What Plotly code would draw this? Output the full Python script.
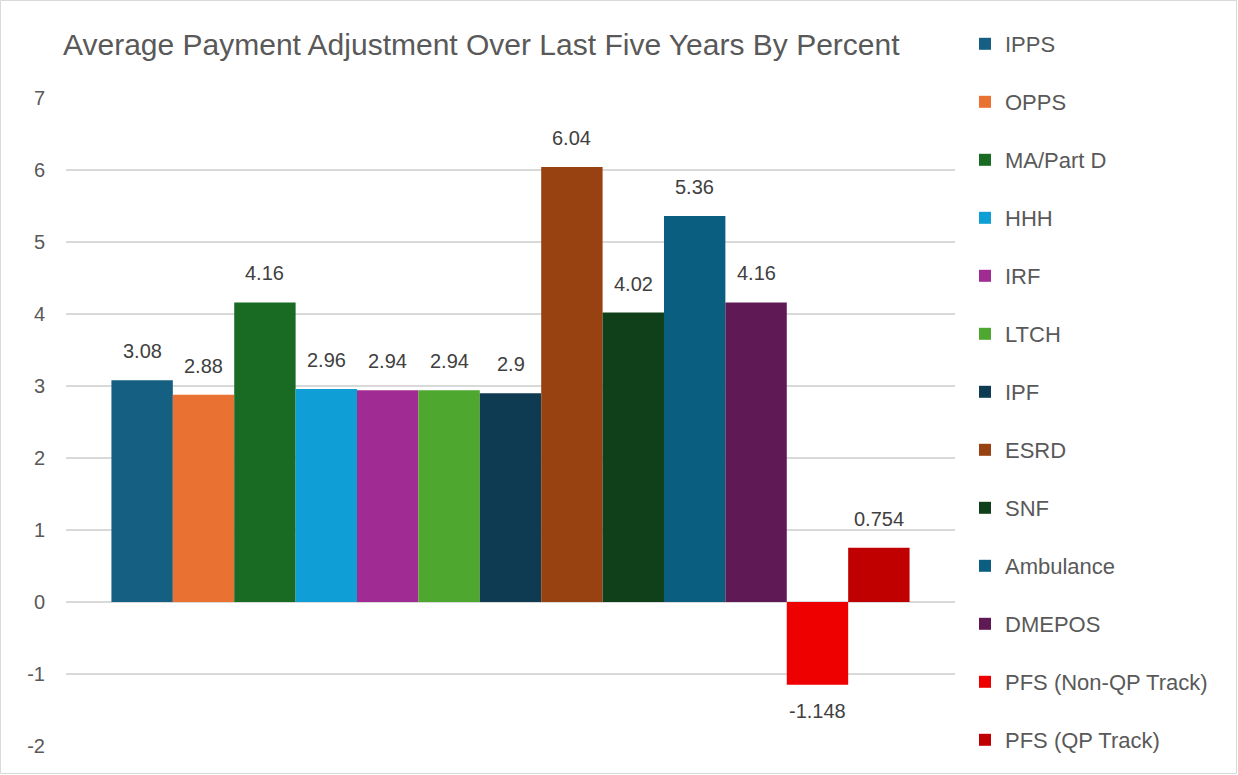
import plotly.graph_objects as go

# Payment systems and their five-year average adjustment (percent)
programs = ["IPPS", "OPPS", "MA/Part D", "HHH", "IRF", "LTCH", "IPF", "ESRD",
            "SNF", "Ambulance", "DMEPOS", "PFS (Non-QP Track)", "PFS (QP Track)"]
values = [3.08, 2.88, 4.16, 2.96, 2.94, 2.94, 2.9, 6.04, 4.02, 5.36, 4.16, -1.148, 0.754]
colors = ["#156082", "#E97132", "#196B24", "#0F9ED5", "#A02B93", "#4EA72E", "#0E3A52",
          "#984111", "#10401A", "#0A5F80", "#5F1955", "#EE0000", "#C00000"]
y_ticks = [-2, -1, 0, 1, 2, 3, 4, 5, 6, 7]
y_tick_text = [str(t) for t in y_ticks]

W, H = 1238, 775
L, R, T, B = 66, 283, 98, 29
pw, ph = W - L - R, H - T - B

base_font = "Liberation Sans, Arial, sans-serif"
fig = go.Figure()
for name, v, c in zip(programs, values, colors):
    fig.add_trace(go.Bar(
        x=[name], y=[v], name=name, marker_color=c, marker_line_width=0,
        width=1.0, legendgroup=name, hoverinfo="name+y",
    ))
    # value label above positive bars, below negative ones
    fig.add_annotation(
        x=name, y=v, text=f"{v:g}", showarrow=False,
        yanchor="bottom" if v >= 0 else "top", yshift=16 if v >= 0 else -13,
        font=dict(size=20, color="#404040", family=base_font),
    )

pad = 0.74
fig.update_layout(
    width=W, height=H,
    margin=dict(l=L, r=R, t=T, b=B),
    paper_bgcolor="white", plot_bgcolor="white",
    barmode="overlay",
    font=dict(family=base_font, color="#595959"),
    title=dict(text="Average Payment Adjustment Over Last Five Years By Percent",
               x=63 / W, xanchor="left", y=1 - 44 / H, yanchor="middle",
               font=dict(family=base_font, size=30, color="#595959")),
    legend=dict(x=(965 - L) / pw, xanchor="left", y=(H - B - 23) / ph, yanchor="top",
                font=dict(size=22, color="#595959", family=base_font),
                tracegroupgap=26.4, bgcolor="rgba(0,0,0,0)", maxheight=2000),
    showlegend=True,
)
fig.update_xaxes(type="category", range=[-0.5 - pad, len(programs) - 0.5 + pad],
                 showticklabels=False, showgrid=False, zeroline=False, showline=False)
fig.update_yaxes(range=[-2, 7], tickvals=y_ticks, ticktext=y_tick_text,
                 showgrid=True, gridcolor="#D9D9D9", gridwidth=1.5,
                 zeroline=True, zerolinecolor="#D9D9D9", zerolinewidth=1.5,
                 showline=False, ticks="", ticklabelstandoff=20,
                 tickfont=dict(size=20, color="#595959", family=base_font))

# thin border around the chart
fig.add_shape(type="rect", xref="paper", yref="paper",
              x0=-(L - 0.5) / pw, x1=1 + (R - 1.5) / pw,
              y0=-(B - 1.5) / ph, y1=1 + (T - 0.5) / ph,
              line=dict(color="#D9D9D9", width=1), fillcolor="rgba(0,0,0,0)", layer="below")

fig.write_html("out.html")
